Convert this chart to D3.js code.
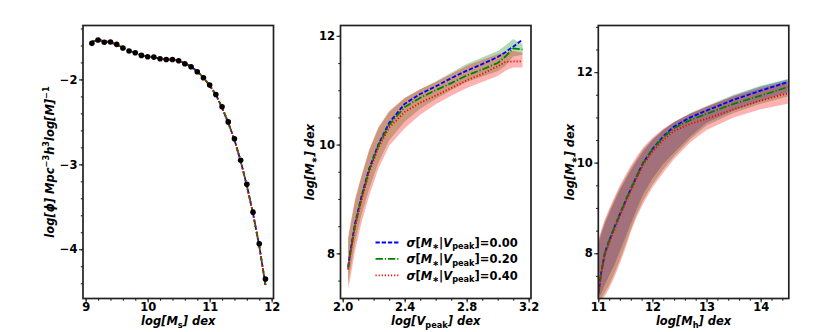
<!DOCTYPE html>
<html>
<head>
<meta charset="utf-8">
<script src="https://cdn.jsdelivr.net/npm/d3@7"></script>
<style>
  body { margin: 0; background: #fff; }
  text { font-family: 'DejaVu Sans'; font-weight: bold; fill: #000; }
</style>
</head>
<body>
<script>
// left: stellar mass function
var smfX     = [9.1, 9.2, 9.3, 9.4, 9.5, 9.6, 9.7, 9.8, 9.9, 10.0, 10.1, 10.2, 10.3, 10.4, 10.5,
                10.6, 10.7, 10.8, 10.9, 11.0, 11.1, 11.2, 11.3, 11.4, 11.5, 11.6, 11.7, 11.8, 11.9]
var smfObs   = [-1.575, -1.536, -1.563, -1.559, -1.587, -1.63, -1.666, -1.686, -1.717, -1.733, -1.737,
                -1.757, -1.765, -1.765, -1.78, -1.816, -1.851, -1.91, -1.98, -2.067, -2.177, -2.323,
                -2.50, -2.70, -2.953, -3.236, -3.563, -3.936, -4.35]
var smfModel = [-1.555, -1.535, -1.55, -1.565, -1.59, -1.625, -1.66, -1.69, -1.715, -1.73, -1.74,
                -1.755, -1.765, -1.768, -1.78, -1.81, -1.85, -1.905, -1.98, -2.07, -2.18, -2.33,
                -2.51, -2.71, -2.96, -3.25, -3.58, -3.96, -4.42]

// middle: M* vs Vpeak
var vpX      = [2.035, 2.05, 2.08, 2.12, 2.17, 2.23, 2.3, 2.4, 2.5, 2.6, 2.7, 2.8, 2.9, 3.0, 3.05, 3.1, 3.16]
var vpS00    = [7.75, 8.05, 8.55, 9.03, 9.55, 10.0, 10.4, 10.75, 10.93, 11.07, 11.22, 11.36, 11.48, 11.61, 11.7, 11.8, 11.93]
var vpS20    = [7.72, 8.02, 8.52, 9.0, 9.52, 9.98, 10.36, 10.69, 10.86, 11.0, 11.13, 11.27, 11.38, 11.5, 11.62, 11.77, 11.75]
var vpS40    = [7.7, 7.98, 8.48, 8.96, 9.48, 9.94, 10.31, 10.6, 10.77, 10.9, 11.04, 11.18, 11.3, 11.44, 11.52, 11.53, 11.53]
var vpS20Hi  = [8.25, 8.5, 8.97, 9.4, 9.88, 10.3, 10.6, 10.85, 11.02, 11.16, 11.32, 11.48, 11.6, 11.72, 11.82, 11.94, 11.85]
var vpS20Lo  = [7.45, 7.7, 8.2, 8.7, 9.18, 9.66, 10.08, 10.42, 10.66, 10.84, 11.0, 11.15, 11.25, 11.35, 11.45, 11.62, 11.65]
var vpS40Hi  = [8.3, 8.55, 9.0, 9.42, 9.9, 10.32, 10.62, 10.86, 11.02, 11.15, 11.3, 11.45, 11.56, 11.66, 11.7, 11.72, 11.69]
var vpS40Lo  = [7.35, 7.55, 8.05, 8.55, 9.05, 9.55, 9.98, 10.3, 10.55, 10.74, 10.9, 11.04, 11.15, 11.26, 11.36, 11.42, 11.42]

// right: M* vs Mh
var mhX      = [11.0, 11.05, 11.12, 11.2, 11.3, 11.4, 11.5, 11.6, 11.7, 11.83, 12.0, 12.2, 12.4, 12.7, 13.0, 13.5, 14.0, 14.5]
var mhS00    = [7.1, 7.55, 8.0, 8.28, 8.58, 8.87, 9.15, 9.42, 9.68, 10.0, 10.3, 10.58, 10.8, 11.0, 11.15, 11.39, 11.59, 11.78]
var mhS20    = [7.1, 7.55, 8.0, 8.28, 8.58, 8.87, 9.15, 9.42, 9.68, 10.0, 10.29, 10.56, 10.76, 10.94, 11.08, 11.3, 11.48, 11.67]
var mhS40    = [7.05, 7.5, 7.95, 8.22, 8.52, 8.82, 9.1, 9.37, 9.63, 9.95, 10.24, 10.5, 10.7, 10.86, 10.97, 11.18, 11.37, 11.53]
var mhS00Hi  = [8.2, 8.4, 8.65, 8.88, 9.15, 9.4, 9.62, 9.83, 10.02, 10.25, 10.5, 10.72, 10.9, 11.08, 11.23, 11.48, 11.68, 11.84]
var mhS00Lo  = [7.0, 7.1, 7.3, 7.5, 7.75, 8.05, 8.35, 8.65, 8.95, 9.3, 9.65, 9.97, 10.22, 10.58, 10.88, 11.15, 11.36, 11.55]
var mhS20Hi  = [8.25, 8.45, 8.7, 8.93, 9.2, 9.45, 9.67, 9.88, 10.07, 10.3, 10.52, 10.73, 10.9, 11.1, 11.25, 11.5, 11.7, 11.85]
var mhS20Lo  = [6.95, 7.0, 7.12, 7.3, 7.56, 7.86, 8.18, 8.52, 8.83, 9.17, 9.52, 9.85, 10.14, 10.52, 10.82, 11.1, 11.3, 11.46]
var mhS40Hi  = [8.29, 8.5, 8.75, 8.98, 9.25, 9.5, 9.72, 9.93, 10.12, 10.34, 10.55, 10.75, 10.9, 11.08, 11.24, 11.46, 11.64, 11.8]
var mhS40Lo  = [6.9, 6.95, 7.05, 7.22, 7.48, 7.78, 8.1, 8.47, 8.78, 9.1, 9.45, 9.78, 10.08, 10.45, 10.72, 11.0, 11.18, 11.3]

var legendLabels = ['0.00', '0.20', '0.40']

var styles = [
  {color: '#0000ff', dash: '4.3,1.9'},
  {color: '#008000', dash: '7.4,1.9,1.2,1.9'},
  {color: '#ff0000', dash: '1.2,1.9'}
]

var svg = d3.select('body').append('svg').attr('width', 830).attr('height', 332)

function zip(xs, ys){ return xs.map(function(x, i){ return [x, ys[i]] }) }
function zip3(xs, lo, hi){ return xs.map(function(x, i){ return [x, lo[i], hi[i]] }) }

// mathtext-ish label: italic parts, upright sub/superscripts
function rich(text, parts){
  var shift = 0
  parts.forEach(function(p){
    var s = p.sub ? 2.6 : p.sup ? -4.6 : 0
    text.append('tspan')
      .attr('dy', s - shift)
      .style('font-size', s ? '8.2px' : null)
      .style('font-style', p.it ? 'italic' : 'normal')
      .text(p.t)
    shift = s
  })
}

function panel(id, left, xDom, yDom){
  var c = {left: left, width: 190.5, top: 25.5, height: 273}
  c.x = d3.scaleLinear().domain(xDom).range([left, left + c.width])
  c.y = d3.scaleLinear().domain(yDom).range([c.top + c.height, c.top])
  svg.append('clipPath').attr('id', id).append('rect')
    .attr('x', left).attr('y', c.top).attr('width', c.width).attr('height', c.height)
  c.g = svg.append('g').attr('clip-path', 'url(#' + id + ')')
  return c
}

function drawAxes(c, xMaj, xMin, xFmt, yMaj, yMin, yFmt){
  var b = c.top + c.height
  svg.append('g').attr('transform', 'translate(0,' + b + ')')
    .call(d3.axisBottom(c.x).tickValues(xMin).tickSize(2.2).tickFormat(''))
  svg.append('g').attr('transform', 'translate(0,' + b + ')')
    .call(d3.axisBottom(c.x).tickValues(xMaj).tickSize(4).tickPadding(0.5).tickFormat(xFmt))
  svg.append('g').attr('transform', 'translate(' + c.left + ',0)')
    .call(d3.axisLeft(c.y).tickValues(yMin).tickSize(2.2).tickFormat(''))
  svg.append('g').attr('transform', 'translate(' + c.left + ',0)')
    .call(d3.axisLeft(c.y).tickValues(yMaj).tickSize(4).tickPadding(1.5).tickFormat(yFmt))
  svg.selectAll('.domain').remove()
  svg.selectAll('.tick line').style('stroke', '#222').style('stroke-width', 1.1)
  svg.selectAll('.tick text').style('font-size', '11.5px').style('font-family', 'DejaVu Sans').style('font-weight', 'bold')
  svg.append('rect')
    .attr('x', c.left).attr('y', c.top).attr('width', c.width).attr('height', c.height)
    .style('fill', 'none').style('stroke', '#222').style('stroke-width', 1.7)
}

function xLabel(c, parts){
  var t = svg.append('text').attr('x', c.left + c.width / 2).attr('y', 325)
    .attr('text-anchor', 'middle').style('font-size', '11.5px')
  rich(t, parts)
}
function yLabel(c, x, parts){
  var t = svg.append('text')
    .attr('transform', 'translate(' + x + ',' + (c.top + c.height / 2) + ') rotate(-90)')
    .attr('text-anchor', 'middle').style('font-size', '11.5px')
  rich(t, parts)
}

function drawLines(c, xs, series){
  var line = d3.line().x(function(d){ return c.x(d[0]) }).y(function(d){ return c.y(d[1]) })
  series.forEach(function(ys, i){
    c.g.append('path').attr('d', line(zip(xs, ys)))
      .style('fill', 'none').style('stroke', styles[i].color)
      .style('stroke-width', 1.8).style('stroke-dasharray', styles[i].dash)
  })
}

function drawBands(c, xs, bands){
  var area = d3.area()
    .x(function(d){ return c.x(d[0]) })
    .y0(function(d){ return c.y(d[1]) })
    .y1(function(d){ return c.y(d[2]) })
  bands.forEach(function(b){
    c.g.append('path').attr('d', area(zip3(xs, b.lo, b.hi)))
      .style('fill', b.color).style('fill-opacity', 0.3).style('stroke', 'none')
  })
}

// ---- left panel
!(function(){
  var c = panel('clipA', 83, [8.957, 12.03], [-4.58, -1.365])
  drawLines(c, smfX, [smfModel, smfModel, smfModel])
  c.g.append('g').selectAll('circle').data(zip(smfX, smfObs)).enter().append('circle')
    .attr('cx', function(d){ return c.x(d[0]) })
    .attr('cy', function(d){ return c.y(d[1]) })
    .attr('r', 2.8).style('fill', '#000')
  drawAxes(c, [9, 10, 11, 12], d3.range(9, 12.01, 0.2), d3.format('d'),
    [-4, -3, -2], d3.range(-4.4, -1.39, 0.2), d3.format('d'))
  xLabel(c, [{t: 'log[M', it: 1}, {t: 's', sub: 1}, {t: '] dex', it: 1}])
  yLabel(c, 54, [{t: 'log[ϕ] Mpc', it: 1}, {t: '−3', sup: 1}, {t: 'h', it: 1}, {t: '3', sup: 1},
    {t: 'log[M]', it: 1}, {t: '−1', sup: 1}])
})()

// ---- middle panel
!(function(){
  var c = panel('clipB', 340.5, [1.986, 3.215], [7.17, 12.19])
  drawBands(c, vpX, [
    {lo: vpS20Lo, hi: vpS20Hi, color: '#008000'},
    {lo: vpS40Lo, hi: vpS40Hi, color: '#ff0000'}
  ])
  drawLines(c, vpX, [vpS00, vpS20, vpS40])
  drawAxes(c, [2.0, 2.4, 2.8, 3.2], d3.range(2.0, 3.21, 0.1), d3.format('.1f'),
    [8, 10, 12], d3.range(7.5, 12.01, 0.5), d3.format('d'))
  xLabel(c, [{t: 'log[V', it: 1}, {t: 'peak', sub: 1}, {t: '] dex', it: 1}])
  yLabel(c, 314, [{t: 'log[M', it: 1}, {t: '∗', sub: 1}, {t: '] dex', it: 1}])

  var lg = svg.append('g').attr('transform', 'translate(' + (c.left + 35) + ',242.5)')
  legendLabels.forEach(function(l, i){
    var row = lg.append('g').attr('transform', 'translate(0,' + (i * 16.4) + ')')
    row.append('line').attr('x1', 0).attr('x2', 24)
      .style('stroke', styles[i].color).style('stroke-width', 1.8).style('stroke-dasharray', styles[i].dash)
    var t = row.append('text').attr('x', 31).attr('y', 4.2).style('font-size', '11.5px')
    rich(t, [{t: 'σ', it: 1}, {t: '['}, {t: 'M', it: 1}, {t: '∗', sub: 1}, {t: '|'}, {t: 'V', it: 1},
      {t: 'peak', sub: 1}, {t: ']=' + l}])
  })
})()

// ---- right panel
!(function(){
  var c = panel('clipC', 598.3, [11, 14.52], [7, 13.03])
  drawBands(c, mhX, [
    {lo: mhS00Lo, hi: mhS00Hi, color: '#0000ff'},
    {lo: mhS20Lo, hi: mhS20Hi, color: '#008000'},
    {lo: mhS40Lo, hi: mhS40Hi, color: '#ff0000'}
  ])
  drawLines(c, mhX, [mhS00, mhS20, mhS40])
  drawAxes(c, [11, 12, 13, 14], d3.range(11, 14.41, 0.2), d3.format('d'),
    [8, 10, 12], d3.range(7.5, 13.01, 0.5), d3.format('d'))
  xLabel(c, [{t: 'log[M', it: 1}, {t: 'h', sub: 1}, {t: '] dex', it: 1}])
  yLabel(c, 574, [{t: 'log[M', it: 1}, {t: '∗', sub: 1}, {t: '] dex', it: 1}])
})()
</script>
</body>
</html>
